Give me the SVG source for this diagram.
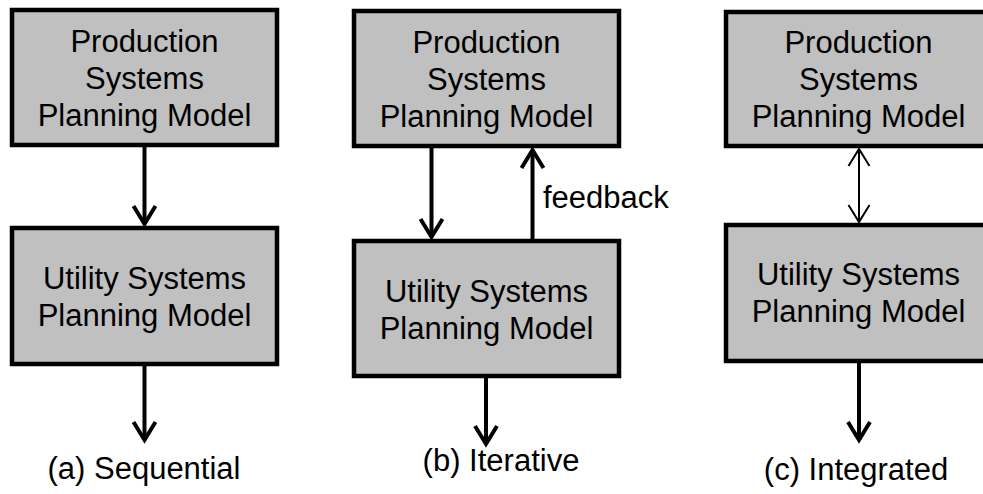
<svg xmlns="http://www.w3.org/2000/svg" width="983" height="494" viewBox="0 0 983 494">
<style>
  .box { fill: #c0c0c0; stroke: #000; stroke-width: 4.5; }
  .t { font-family: "Liberation Sans", Arial, sans-serif; font-size: 31px; fill: #000; text-anchor: middle; }
  .lbl { font-family: "Liberation Sans", Arial, sans-serif; font-size: 31px; fill: #000; }
  .c { fill: none; stroke: #000; stroke-width: 4; }
  .c2 { fill: none; stroke: #000; stroke-width: 2; }
</style>
<defs>
  <marker id="ah" markerUnits="userSpaceOnUse" orient="auto" refX="0" refY="0" markerWidth="40" markerHeight="40" overflow="visible">
    <path d="M-18,-11 L0,0 L-18,11" fill="none" stroke="#000" stroke-width="4"/>
  </marker>
  <marker id="ah2" markerUnits="userSpaceOnUse" orient="auto-start-reverse" refX="0" refY="0" markerWidth="40" markerHeight="40" overflow="visible">
    <path d="M-17,-10.5 L0,0 L-17,10.5" fill="none" stroke="#000" stroke-width="2"/>
  </marker>
</defs>

<g id="a-production">
  <rect class="box" x="12" y="10" width="265" height="135"/>
  <text class="t" x="144.5" y="51.5">Production</text>
  <text class="t" x="144.5" y="88.5">Systems</text>
  <text class="t" x="144.5" y="125.5">Planning Model</text>
</g>
<g id="a-utility">
  <rect class="box" x="12" y="228" width="265" height="136"/>
  <text class="t" x="144.5" y="288.5">Utility Systems</text>
  <text class="t" x="144.5" y="325.5">Planning Model</text>
</g>
<g id="b-production">
  <rect class="box" x="354" y="11" width="265" height="135"/>
  <text class="t" x="486.5" y="52.5">Production</text>
  <text class="t" x="486.5" y="89.5">Systems</text>
  <text class="t" x="486.5" y="126.5">Planning Model</text>
</g>
<g id="b-utility">
  <rect class="box" x="354" y="241" width="265" height="135"/>
  <text class="t" x="486.5" y="302">Utility Systems</text>
  <text class="t" x="486.5" y="339">Planning Model</text>
</g>
<g id="c-production">
  <rect class="box" x="726" y="12" width="265" height="134"/>
  <text class="t" x="858.5" y="53">Production</text>
  <text class="t" x="858.5" y="90">Systems</text>
  <text class="t" x="858.5" y="127">Planning Model</text>
</g>
<g id="c-utility">
  <rect class="box" x="726" y="225" width="265" height="136"/>
  <text class="t" x="858.5" y="284.5">Utility Systems</text>
  <text class="t" x="858.5" y="321.5">Planning Model</text>
</g>

<g id="connectors">
  <line class="c" x1="144.5" y1="147" x2="144.5" y2="224" marker-end="url(#ah)"/>
  <line class="c" x1="144.5" y1="366" x2="144.5" y2="440" marker-end="url(#ah)"/>
  <line class="c" x1="431.5" y1="148" x2="431.5" y2="237" marker-end="url(#ah)"/>
  <line class="c" x1="532.5" y1="239" x2="532.5" y2="150" marker-end="url(#ah)"/>
  <line class="c" x1="486" y1="378" x2="486" y2="444" marker-end="url(#ah)"/>
  <line class="c2" x1="859" y1="149" x2="859" y2="222" marker-start="url(#ah2)" marker-end="url(#ah2)"/>
  <line class="c" x1="859" y1="363" x2="859" y2="440" marker-end="url(#ah)"/>
</g>

<g id="labels">
  <text class="lbl" x="543" y="208">feedback</text>
  <text class="t" x="144" y="479">(a) Sequential</text>
  <text class="t" x="501" y="471">(b) Iterative</text>
  <text class="t" x="856" y="480">(c) Integrated</text>
</g>
</svg>
